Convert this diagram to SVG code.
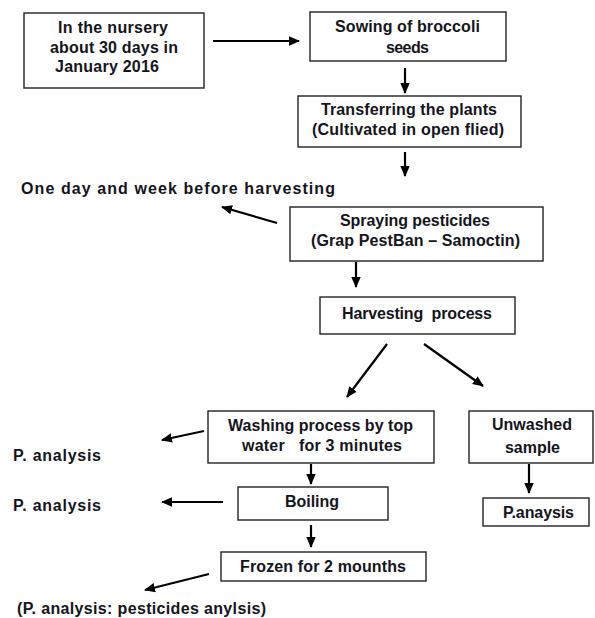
<svg xmlns="http://www.w3.org/2000/svg" width="595" height="618" viewBox="0 0 595 618">
<style>
.box{fill:#fff;stroke:#222;stroke-width:1.4}
.t{font-family:"Liberation Sans",Arial,sans-serif;font-weight:bold;font-size:16px;fill:#141420}
.c{fill:none;stroke:#000;stroke-width:2.2}
</style>
<defs>
<marker id="ah" markerWidth="11" markerHeight="11" refX="10" refY="5.5" orient="auto" markerUnits="userSpaceOnUse">
<path d="M0,0.8 L11,5.5 L0,10.2 Z" fill="#000"/>
</marker>
</defs>
<rect width="595" height="618" fill="#fff"/>
<g id="connectors">
<path class="c" d="M213,41 L299,41" marker-end="url(#ah)"/>
<path class="c" d="M405,68 L405,93" marker-end="url(#ah)"/>
<path class="c" d="M405,152 L405,176" marker-end="url(#ah)"/>
<path class="c" d="M277,223 L222,207" marker-end="url(#ah)"/>
<path class="c" d="M356,262 L356,287" marker-end="url(#ah)"/>
<path class="c" d="M387,344 L347,397" marker-end="url(#ah)"/>
<path class="c" d="M424,344 L483,386" marker-end="url(#ah)"/>
<path class="c" d="M204,431 L162,440" marker-end="url(#ah)"/>
<path class="c" d="M311,464 L311,484" marker-end="url(#ah)"/>
<path class="c" d="M223,502 L162,502" marker-end="url(#ah)"/>
<path class="c" d="M311,525 L311,547" marker-end="url(#ah)"/>
<path class="c" d="M209,574 L145,590" marker-end="url(#ah)"/>
<path class="c" d="M529,464 L529,493" marker-end="url(#ah)"/>
</g>
<g id="nursery">
<rect class="box" x="24" y="13" width="180" height="75"/>
<text class="t" x="58" y="33" textLength="110" lengthAdjust="spacing">In the nursery</text>
<text class="t" x="50" y="53" textLength="128" lengthAdjust="spacing">about 30 days in</text>
<text class="t" x="55" y="72" textLength="104" lengthAdjust="spacing">January 2016</text>
</g>
<g id="sowing">
<rect class="box" x="310" y="12" width="196" height="49"/>
<text class="t" x="335" y="32" textLength="145" lengthAdjust="spacing">Sowing of broccoli</text>
<text class="t" x="386" y="53" textLength="43" lengthAdjust="spacing">seeds</text>
</g>
<g id="transferring">
<rect class="box" x="298" y="96" width="223" height="51"/>
<text class="t" x="321" y="115" textLength="176" lengthAdjust="spacing">Transferring the plants</text>
<text class="t" x="312" y="135" textLength="192" lengthAdjust="spacing">(Cultivated in open flied)</text>
</g>
<g id="before-harvest">
<text class="t" x="21" y="194" textLength="314" lengthAdjust="spacing">One day and week before harvesting</text>
</g>
<g id="spraying">
<rect class="box" x="290" y="207" width="253" height="54"/>
<text class="t" x="340" y="226" textLength="150" lengthAdjust="spacing">Spraying pesticides</text>
<text class="t" x="311" y="246" textLength="209" lengthAdjust="spacing">(Grap PestBan – Samoctin)</text>
</g>
<g id="harvesting">
<rect class="box" x="320" y="297" width="195" height="37"/>
<text class="t" x="342" y="319" textLength="150" lengthAdjust="spacing" xml:space="preserve">Harvesting  process</text>
</g>
<g id="washing">
<rect class="box" x="208" y="411" width="226" height="52"/>
<text class="t" x="228" y="431" textLength="185" lengthAdjust="spacing">Washing process by top</text>
<text class="t" x="242" y="451" textLength="160" lengthAdjust="spacing" xml:space="preserve">water   for 3 minutes</text>
</g>
<g id="p-analysis-1">
<text class="t" x="13" y="461" textLength="88" lengthAdjust="spacing">P. analysis</text>
</g>
<g id="boiling">
<rect class="box" x="238" y="487" width="150" height="33"/>
<text class="t" x="285" y="507" textLength="54" lengthAdjust="spacing">Boiling</text>
</g>
<g id="p-analysis-2">
<text class="t" x="13" y="511" textLength="88" lengthAdjust="spacing">P. analysis</text>
</g>
<g id="frozen">
<rect class="box" x="221" y="552" width="205" height="29"/>
<text class="t" x="240" y="572" textLength="166" lengthAdjust="spacing">Frozen for 2 mounths</text>
</g>
<g id="note">
<text class="t" x="17" y="614" textLength="249" lengthAdjust="spacing">(P. analysis: pesticides anylsis)</text>
</g>
<g id="unwashed">
<rect class="box" x="469" y="411" width="124" height="52"/>
<text class="t" x="492" y="430" textLength="80" lengthAdjust="spacing">Unwashed</text>
<text class="t" x="505" y="453" textLength="55" lengthAdjust="spacing">sample</text>
</g>
<g id="p-anaysis">
<rect class="box" x="483" y="498" width="106" height="28"/>
<text class="t" x="503" y="518" textLength="71" lengthAdjust="spacing">P.anaysis</text>
</g>
</svg>
